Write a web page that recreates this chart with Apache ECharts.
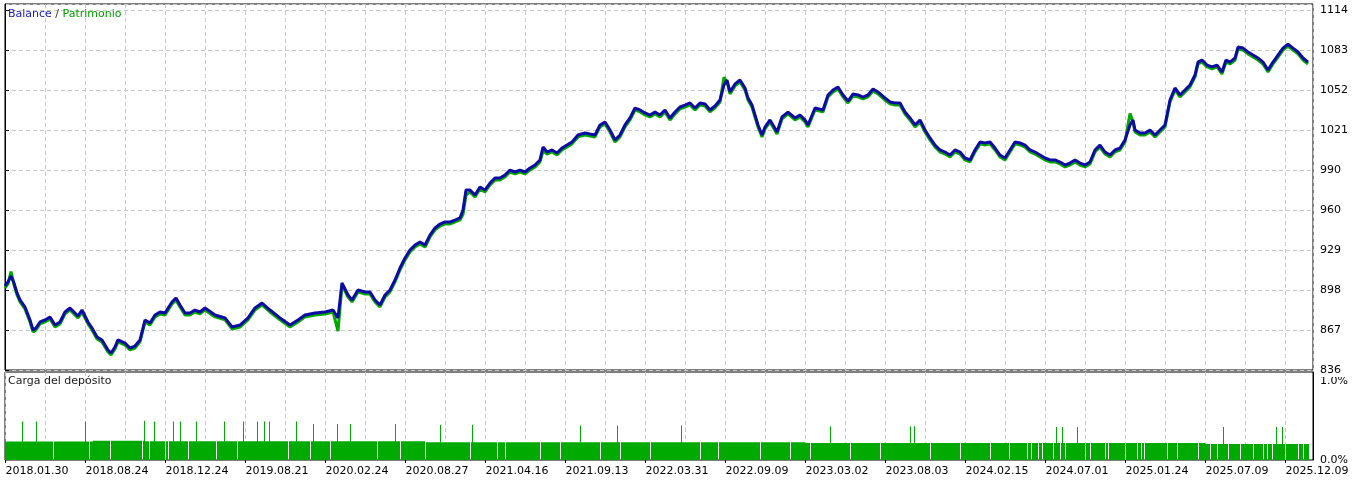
<!DOCTYPE html>
<html lang="es">
<head>
    <meta charset="UTF-8">
    <title>Balance / Patrimonio</title>
    <script src="https://cdn.jsdelivr.net/npm/echarts@6/dist/echarts.min.js"></script>
    <style>
        html, body { margin: 0; padding: 0; background: #fff; }
        #main { width: 1368px; height: 481px; }
    </style>
</head>
<body>
<div id="main"></div>
<script type="text/javascript">
    // etiquetas del eje X (una cada 80 operaciones)
    var dateLabels = ['2018.01.30', '2018.08.24', '2018.12.24', '2019.08.21', '2020.02.24', '2020.08.27',
        '2021.04.16', '2021.09.13', '2022.03.31', '2022.09.09', '2023.03.02', '2023.08.03',
        '2024.02.15', '2024.07.01', '2025.01.24', '2025.07.09', '2025.12.09'];
    var dealCount = 1308;
    var priceTicks = ['836', '867', '898', '929', '960', '990', '1021', '1052', '1083', '1114'];
    var loadTicks = ['0.0%', '1.0%'];

    // numero de operacion de cada punto leido
    var deals = [
        0, 3, 6, 9, 12, 15, 20, 25, 28, 31,
        35, 40, 45, 50, 55, 60, 65, 70, 73, 77,
        83, 87, 92, 97, 103, 106, 110, 113, 120, 125,
        130, 135, 140, 145, 150, 155, 160, 167, 171, 175,
        180, 185, 190, 195, 200, 210, 220, 227, 235, 243,
        250, 257, 265, 275, 285, 293, 300, 310, 320, 328,
        333, 337, 343, 347, 353, 360, 365, 370, 375, 380,
        385, 390, 395, 400, 405, 410, 415, 420, 425, 430,
        435, 440, 445, 450, 455, 458, 461, 465, 470, 475,
        480, 485, 490, 495, 500, 505, 510, 515, 520, 525,
        530, 535, 538, 542, 547, 552, 557, 562, 567, 573,
        580, 585, 590, 595, 600, 605, 610, 615, 620, 625,
        630, 635, 640, 645, 650, 655, 660, 665, 670, 675,
        680, 685, 690, 695, 700, 705, 710, 715, 719, 722,
        725, 730, 735, 740, 743, 747, 750, 753, 757, 760,
        765, 768, 772, 777, 783, 790, 795, 800, 803, 810,
        818, 823, 828, 833, 838, 843, 848, 853, 858, 863,
        868, 873, 880, 885, 890, 895, 900, 905, 910, 915,
        920, 925, 930, 935, 940, 945, 950, 955, 960, 965,
        970, 975, 980, 985, 990, 995, 1000, 1005, 1010, 1015,
        1020, 1025, 1030, 1035, 1040, 1045, 1050, 1055, 1060, 1065,
        1070, 1075, 1080, 1085, 1090, 1095, 1100, 1105, 1110, 1115,
        1120, 1125, 1128, 1130, 1135, 1140, 1145, 1150, 1155, 1160,
        1165, 1170, 1175, 1180, 1185, 1190, 1193, 1197, 1202, 1207,
        1212, 1217, 1221, 1225, 1230, 1233, 1238, 1243, 1248, 1253,
        1258, 1263, 1268, 1273, 1278, 1283, 1288, 1293, 1298, 1303
    ];

    var balance = [
        900.9, 904.0, 908.6, 903.2, 895.5, 890.1, 884.6, 874.6, 866.9, 868.4,
        873.1, 874.6, 876.9, 870.7, 873.1, 880.8, 883.9, 880.0, 877.7, 882.3,
        873.1, 868.4, 861.5, 859.2, 851.4, 849.1, 853.8, 859.2, 856.8, 853.0,
        854.5, 859.2, 874.6, 872.3, 878.5, 880.8, 880.0, 888.5, 891.6, 886.2,
        880.0, 880.0, 882.3, 880.8, 883.9, 878.5, 876.2, 869.2, 870.7, 876.2,
        883.9, 887.7, 882.3, 876.2, 870.7, 874.6, 878.5, 880.0, 880.8, 882.3,
        876.2, 903.2, 893.9, 890.1, 897.8, 896.2, 896.2, 890.1, 886.2, 893.9,
        897.8, 905.5, 914.8, 922.5, 928.7, 932.5, 934.8, 932.5, 940.2, 945.7,
        948.7, 950.3, 950.3, 951.8, 953.4, 959.6, 975.0, 975.0, 971.1, 977.3,
        975.0, 980.4, 984.3, 984.3, 986.6, 990.4, 988.9, 990.4, 988.9, 992.0,
        994.3, 998.2, 1008.2, 1004.3, 1005.9, 1003.6, 1007.4, 1009.7, 1012.1, 1017.5,
        1019.0, 1018.2, 1017.5, 1025.2, 1027.5, 1021.3, 1013.6, 1017.5, 1025.2, 1030.6,
        1038.3, 1036.8, 1034.5, 1032.9, 1035.2, 1032.9, 1036.8, 1030.6, 1035.2, 1039.1,
        1040.6, 1042.2, 1038.3, 1042.2, 1041.4, 1036.8, 1039.9, 1044.5, 1056.1, 1059.9,
        1050.7, 1056.9, 1059.9, 1053.8, 1046.0, 1040.6, 1032.9, 1025.2, 1017.5, 1023.6,
        1029.1, 1025.2, 1019.8, 1031.4, 1035.2, 1030.6, 1032.9, 1029.1, 1025.2, 1038.3,
        1036.8, 1048.4, 1052.2, 1054.5, 1048.4, 1043.7, 1049.1, 1048.4, 1046.8, 1048.4,
        1053.0, 1050.7, 1046.0, 1043.0, 1042.2, 1042.2, 1035.2, 1030.6, 1025.2, 1029.1,
        1021.3, 1015.2, 1009.7, 1005.9, 1004.3, 1002.0, 1005.9, 1004.3, 999.7, 998.2,
        1005.9, 1012.1, 1011.3, 1012.1, 1007.4, 1002.0, 999.7, 1005.9, 1012.1, 1011.3,
        1009.7, 1005.9, 1004.3, 1002.0, 999.7, 998.2, 998.2, 996.6, 994.3, 995.8,
        998.2, 995.8, 994.3, 996.6, 1005.9, 1009.7, 1004.3, 1002.0, 1005.9, 1007.4,
        1013.6, 1025.2, 1029.1, 1021.3, 1019.0, 1019.0, 1021.3, 1017.5, 1021.3, 1025.2,
        1044.5, 1053.8, 1048.4, 1052.2, 1056.1, 1063.8, 1073.8, 1075.4, 1071.5, 1070.0,
        1071.5, 1066.1, 1075.4, 1073.8, 1076.9, 1085.4, 1084.6, 1081.6, 1079.2, 1076.9,
        1073.8, 1067.7, 1073.8, 1079.2, 1084.6, 1087.7, 1084.6, 1081.6, 1076.9, 1073.8
    ];

    var equity = [
        899.4, 902.5, 912.0, 901.7, 894.0, 888.6, 883.1, 873.1, 865.4, 866.9,
        871.6, 873.1, 875.4, 869.2, 871.6, 879.3, 882.4, 878.5, 876.2, 880.8,
        871.6, 866.9, 860.0, 857.7, 849.9, 847.6, 852.3, 857.7, 855.3, 851.5,
        853.0, 857.7, 873.1, 870.8, 877.0, 879.3, 878.5, 887.0, 890.1, 884.7,
        878.5, 878.5, 880.8, 879.3, 882.4, 877.0, 874.7, 867.7, 869.2, 874.7,
        882.4, 886.2, 880.8, 874.7, 869.2, 873.1, 877.0, 878.5, 879.3, 880.8,
        866.0, 901.7, 892.4, 888.6, 896.3, 894.7, 894.7, 888.6, 884.7, 892.4,
        896.3, 904.0, 913.3, 921.0, 927.2, 931.0, 933.3, 931.0, 938.7, 944.2,
        947.2, 948.8, 948.8, 950.3, 951.9, 956.0, 971.0, 973.5, 969.6, 975.8,
        973.5, 978.9, 982.8, 982.8, 985.1, 988.9, 987.4, 988.9, 987.4, 990.5,
        992.8, 996.7, 1005.0, 1002.8, 1004.4, 1002.1, 1005.9, 1008.2, 1010.6, 1016.0,
        1017.5, 1016.7, 1016.0, 1023.7, 1026.0, 1019.8, 1012.1, 1016.0, 1023.7, 1029.1,
        1036.8, 1035.3, 1033.0, 1031.4, 1033.7, 1031.4, 1035.3, 1029.1, 1033.7, 1037.6,
        1039.1, 1040.7, 1036.8, 1040.7, 1039.9, 1035.3, 1038.4, 1043.0, 1062.0, 1058.4,
        1049.2, 1055.4, 1058.4, 1052.3, 1044.5, 1039.1, 1031.4, 1023.7, 1016.0, 1022.1,
        1027.6, 1023.7, 1018.3, 1029.9, 1033.7, 1029.1, 1031.4, 1027.6, 1023.7, 1036.8,
        1035.3, 1046.9, 1050.7, 1053.0, 1046.9, 1042.2, 1047.6, 1046.9, 1045.3, 1046.9,
        1051.5, 1049.2, 1044.5, 1041.5, 1040.7, 1040.7, 1033.7, 1029.1, 1023.7, 1027.6,
        1019.8, 1013.7, 1008.2, 1004.4, 1002.8, 1000.5, 1004.4, 1002.8, 998.2, 996.7,
        1004.4, 1010.6, 1009.8, 1010.6, 1005.9, 1000.5, 998.2, 1004.4, 1010.6, 1009.8,
        1008.2, 1004.4, 1002.8, 1000.5, 998.2, 996.7, 996.7, 995.1, 992.8, 994.3,
        996.7, 994.3, 992.8, 995.1, 1004.4, 1008.2, 1002.8, 1000.5, 1004.4, 1005.9,
        1012.1, 1034.0, 1027.6, 1019.8, 1017.5, 1017.5, 1019.8, 1016.0, 1019.8, 1023.7,
        1043.0, 1052.3, 1046.9, 1050.7, 1054.6, 1062.3, 1072.3, 1073.9, 1070.0, 1068.5,
        1070.0, 1064.6, 1073.9, 1072.3, 1075.4, 1083.9, 1083.1, 1080.1, 1077.7, 1075.4,
        1072.3, 1066.2, 1072.3, 1077.7, 1083.1, 1086.2, 1083.1, 1080.1, 1075.4, 1072.3
    ];

    // carga del deposito (%): tramos de nivel base, picos y huecos
    var loadLevels = [[0, 88, 0.235], [88, 140, 0.245], [140, 420, 0.24], [420, 800, 0.225],
        [800, 1200, 0.215], [1200, 1304, 0.205]];
    var loadSpikes = [[17, 0.49], [31, 0.49], [80, 0.49], [139, 0.5], [149, 0.49], [168, 0.49],
        [175, 0.49], [191, 0.49], [219, 0.49], [238, 0.49], [252, 0.49], [259, 0.49], [264, 0.49],
        [291, 0.49], [308, 0.46], [332, 0.46], [345, 0.46], [390, 0.46], [435, 0.45], [467, 0.45],
        [575, 0.44], [612, 0.44], [676, 0.44], [825, 0.43], [905, 0.43], [909, 0.43],
        [1051, 0.42], [1057, 0.42], [1072, 0.42], [1218, 0.42], [1271, 0.42], [1277, 0.42]];
    var loadGaps = [48, 84, 105, 137, 144, 160, 163, 183, 211, 232, 283,
        305, 325, 372, 395, 420, 465, 492, 500, 535, 555, 595, 615, 645, 695, 713, 755, 785,
        805, 845, 875, 925, 955, 985,
        1004, 1022, 1026, 1033, 1037, 1048, 1055, 1060, 1080, 1085, 1100, 1103, 1120, 1132,
        1136, 1139, 1162, 1172, 1193, 1205, 1212, 1223, 1235, 1248, 1258, 1262, 1267, 1280,
        1293, 1298];

    var font = 'DejaVu Sans';
    var gridColor = '#c8c8c8';

    var dealNames = [];
    var loadData = [];
    for (var i = 0; i < dealCount; i++) {
        dealNames.push(String(i));
        loadData.push(0);
    }
    loadLevels.forEach(function (s) {
        for (var k = s[0]; k < s[1]; k++) loadData[k] = s[2];
    });
    loadGaps.forEach(function (k) { loadData[k] = 0; });
    loadSpikes.forEach(function (s) { loadData[s[0]] = s[1]; });

    var balanceData = deals.map(function (d, i) { return [d, balance[i]]; });
    var equityData = deals.map(function (d, i) { return [d, equity[i]]; });

    var myChart = echarts.init(document.getElementById('main'));
    var option = {
        animation: false,
        backgroundColor: '#fff',
        title: [
            {
                text: '{b|Balance} {s|/} {p|Patrimonio}',
                left: 8, top: 9, padding: 0,
                textStyle: {
                    fontFamily: font, fontSize: 11, fontWeight: 'normal',
                    rich: {
                        b: {color: '#1a1ab4', fontFamily: font, fontSize: 11},
                        s: {color: '#303030', fontFamily: font, fontSize: 11},
                        p: {color: '#00a000', fontFamily: font, fontSize: 11}
                    }
                }
            },
            {
                text: 'Carga del depósito',
                left: 8, top: 376, padding: 0,
                textStyle: {fontFamily: font, fontSize: 11, fontWeight: 'normal', color: '#1a1a1a'}
            }
        ],
        grid: [
            {left: 5, top: 4, width: 1308, height: 366, show: true, borderColor: '#000', borderWidth: 1, backgroundColor: '#fff'},
            {left: 5, top: 372, width: 1308, height: 88, show: true, borderColor: '#000', borderWidth: 1, backgroundColor: '#fff'}
        ],
        xAxis: [
            {
                gridIndex: 0, type: 'value', min: 0, max: dealCount, interval: 40,
                axisLine: {show: false}, axisTick: {show: false}, axisLabel: {show: false},
                splitLine: {show: true, lineStyle: {color: gridColor, type: [4, 3]}}
            },
            {
                gridIndex: 1, type: 'category', data: dealNames, boundaryGap: true,
                axisLine: {show: false},
                axisTick: {show: true, interval: 79, alignWithLabel: true, length: 3, lineStyle: {color: '#000'}},
                axisLabel: {
                    interval: 79, align: 'left', margin: 6, color: '#000', fontFamily: font, fontSize: 11,
                    formatter: function (v, idx) {
                        return idx % 80 === 0 ? (dateLabels[idx / 80] || '') : '';
                    }
                },
                splitLine: {show: true, interval: 39, lineStyle: {color: gridColor, type: [4, 3]}}
            }
        ],
        yAxis: [
            {
                gridIndex: 0, type: 'value', position: 'right', min: 836, max: 1118.63, interval: 278 / 9,
                axisLine: {show: true, lineStyle: {color: '#000'}},
                axisTick: {show: true, length: 4, lineStyle: {color: '#000'}},
                axisLabel: {
                    margin: 7, color: '#000', fontFamily: font, fontSize: 11, showMaxLabel: false,
                    formatter: function (v, idx) { return priceTicks[idx] || ''; }
                },
                splitLine: {show: true, lineStyle: {color: gridColor, type: [4, 3]}}
            },
            {
                gridIndex: 1, type: 'value', position: 'right', min: 0, max: 1.121, interval: 1,
                axisLine: {show: true, lineStyle: {color: '#000'}},
                axisTick: {show: false},
                axisLabel: {
                    margin: 7, color: '#000', fontFamily: font, fontSize: 11, showMaxLabel: false,
                    formatter: function (v, idx) { return loadTicks[idx] || ''; }
                },
                splitLine: {show: false}
            }
        ],
        graphic: [
            // tapa la mitad inferior de la etiqueta 836, como en el original
            {type: 'rect', z: 100, shape: {x: 1315, y: 373, width: 53, height: 4}, style: {fill: '#fff'}}
        ],
        series: [
            {
                name: 'Patrimonio', type: 'line', xAxisIndex: 0, yAxisIndex: 0,
                data: equityData, showSymbol: false, silent: true,
                lineStyle: {color: '#00a800', width: 3}
            },
            {
                name: 'Balance', type: 'line', xAxisIndex: 0, yAxisIndex: 0,
                data: balanceData, showSymbol: false, silent: true,
                lineStyle: {color: '#0c0ca4', width: 3}
            },
            {
                name: 'Carga del depósito', type: 'bar', xAxisIndex: 1, yAxisIndex: 1,
                data: loadData, barWidth: '100%', barCategoryGap: '0%', silent: true,
                itemStyle: {color: '#00aa00'}
            }
        ]
    };
    myChart.setOption(option);
</script>
</body>
</html>
